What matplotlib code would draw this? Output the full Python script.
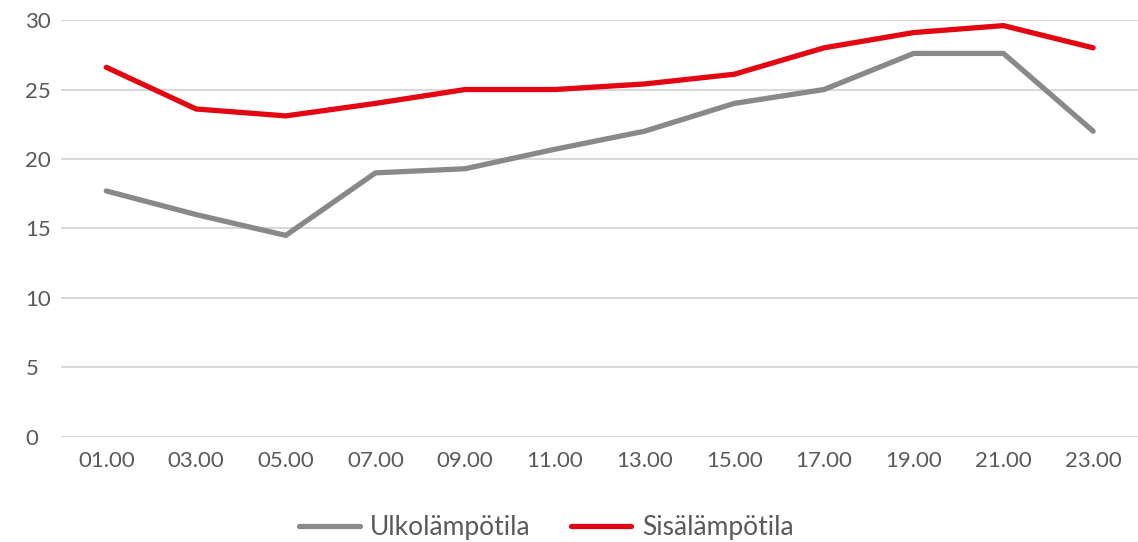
import matplotlib
matplotlib.use('Agg')
import matplotlib.pyplot as plt

hours = ['01.00', '03.00', '05.00', '07.00', '09.00', '11.00',
         '13.00', '15.00', '17.00', '19.00', '21.00', '23.00']
ulko = [17.7, 16.0, 14.5, 19.0, 19.3, 20.7, 22.0, 24.0, 25.0, 27.6, 27.6, 22.0]
sisa = [26.6, 23.6, 23.1, 24.0, 25.0, 25.0, 25.4, 26.1, 28.0, 29.1, 29.6, 28.0]
yticks = [0, 5, 10, 15, 20, 25, 30]

plt.rcParams['font.family'] = ['Lato', 'DejaVu Sans']
txt = '#595959'

fig = plt.figure(figsize=(11.38, 5.42), dpi=100)
ax = fig.add_axes([0.054, 0.194, 0.946, 0.769])

x = range(len(hours))
ax.plot(x, ulko, color='#898989', lw=3.8, solid_capstyle='round', label='Ulkolämpötila')
ax.plot(x, sisa, color='#e30613', lw=3.8, solid_capstyle='round', label='Sisälämpötila')

ax.set_xlim(-0.5, len(hours) - 0.5)
ax.set_ylim(0, 30)
ax.set_yticks(yticks)
ax.set_xticks(list(x))
ax.set_xticklabels(hours)
ax.grid(axis='y', color='#d9d9d9', lw=1.5)
ax.set_axisbelow(True)
for s in ax.spines.values():
    s.set_visible(False)
ax.tick_params(length=0, labelsize=16, colors=txt, pad=10)
ax.tick_params(axis='y', pad=26)
for lab in ax.get_yticklabels():
    lab.set_horizontalalignment('left')

leg = fig.legend(loc='center', bbox_to_anchor=(0.48, 0.027), ncol=2, frameon=False,
                 fontsize=19, handlelength=2.3, columnspacing=1.5, handletextpad=0.4)
for t in leg.get_texts():
    t.set_color(txt)

fig.savefig('out.png', dpi=100)
